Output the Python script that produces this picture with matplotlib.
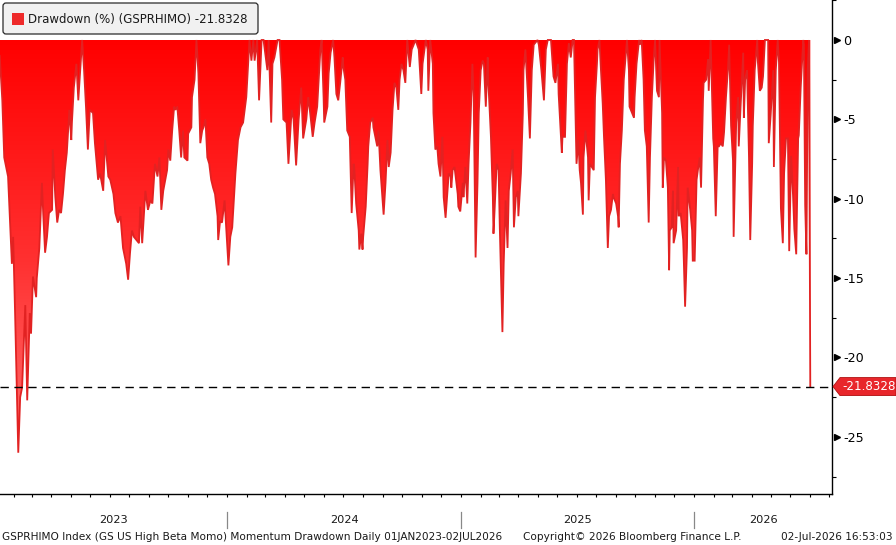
import numpy as np
import pandas as pd
import matplotlib
matplotlib.use("Agg")
import matplotlib.pyplot as plt
import matplotlib.dates as mdates
import matplotlib.transforms as mtransforms
from matplotlib.colors import LinearSegmentedColormap
from matplotlib.patches import FancyBboxPatch, Polygon, Rectangle

plt.rcParams['font.family'] = ['DejaVu Sans']
plt.rcParams['axes.unicode_minus'] = False

# --- data ---
start = pd.Timestamp("2023-01-01")
day_offset = [
    9, 13, 16, 22, 28, 30, 33, 38, 41, 44, 49, 52, 56, 58, 61, 66, 67, 71, 75, 77,
    80, 83, 86, 91, 92, 96, 99, 102, 105, 108, 111, 114, 118, 121, 122, 125, 129, 132, 135, 138,
    141, 144, 147, 150, 155, 158, 163, 166, 171, 174, 179, 182, 187, 190, 194, 198, 202, 207, 210, 213,
    216, 219, 223, 227, 229, 232, 237, 241, 245, 248, 252, 256, 259, 262, 265, 271, 273, 276, 279, 282,
    284, 287, 290, 293, 296, 298, 303, 304, 309, 310, 314, 317, 320, 323, 326, 328, 331, 334, 337, 340,
    343, 346, 350, 351, 354, 357, 361, 365, 367, 370, 373, 378, 382, 386, 390, 395, 398, 400, 403, 406,
    408, 412, 415, 419, 422, 428, 430, 434, 436, 439, 444, 447, 451, 453, 458, 461, 466, 469, 473, 477,
    481, 484, 489, 492, 495, 499, 502, 506, 511, 513, 516, 517, 522, 524, 527, 531, 533, 536, 539, 542,
    546, 547, 550, 553, 557, 560, 563, 564, 567, 571, 572, 575, 577, 578, 582, 585, 586, 589, 593, 594,
    597, 600, 602, 605, 608, 610, 613, 616, 618, 621, 624, 627, 630, 633, 635, 638, 641, 644, 647, 651,
    654, 657, 660, 665, 669, 671, 676, 679, 680, 683, 687, 688, 691, 694, 696, 699, 702, 704, 707, 710,
    712, 715, 716, 718, 721, 726, 727, 730, 734, 735, 738, 741, 743, 746, 749, 751, 754, 757, 759, 762,
    765, 767, 770, 773, 774, 778, 781, 782, 784, 787, 790, 792, 796, 798, 801, 804, 806, 809, 812, 814,
    817, 820, 821, 825, 828, 829, 832, 836, 839, 842, 845, 851, 853, 857, 861, 864, 867, 872, 876, 879,
    883, 884, 889, 890, 894, 897, 900, 903, 906, 908, 911, 912, 915, 917, 919, 922, 923, 926, 930, 931,
    933, 936, 939, 941, 944, 945, 948, 950, 953, 955, 958, 961, 963, 966, 969, 970, 974, 977, 978, 980,
    983, 986, 988, 991, 994, 995, 999, 1002, 1003, 1006, 1010, 1011, 1014, 1017, 1019, 1022, 1025, 1027, 1030, 1033,
    1035, 1038, 1041, 1042, 1046, 1047, 1049, 1052, 1055, 1057, 1058, 1061, 1063, 1064, 1068, 1071, 1072, 1075, 1079, 1080,
    1082, 1085, 1086, 1090, 1093, 1094, 1097, 1100, 1102, 1105, 1107, 1110, 1111, 1115, 1118, 1119, 1122, 1126, 1127, 1130,
    1133, 1135, 1138, 1141, 1143, 1146, 1149, 1151, 1154, 1157, 1158, 1162, 1165, 1166, 1169, 1173, 1174, 1176, 1179, 1182,
    1184, 1187, 1188, 1191, 1195, 1196, 1199, 1202, 1204, 1207, 1212, 1213, 1216, 1220, 1221, 1224, 1227, 1229, 1232, 1235,
    1237, 1240, 1243, 1245, 1248, 1251, 1253, 1256, 1259, 1260, 1263, 1267, 1268, 1270, 1272, 1274, 1276, 1278,
]
drawdown = [
    -1.0, -3.8, -7.4, -8.6, -14.1, -12.4, -17.2, -26.0, -22.5, -21.9, -16.7, -22.7, -17.2, -18.5, -14.9, -16.2, -15.0, -13.1, -9.0, -10.9,
    -13.4, -12.4, -10.9, -10.7, -6.9, -9.9, -11.5, -10.7, -10.9, -9.7, -8.2, -7.1, -4.4, -6.3, -5.2, -3.0, -1.5, -3.8, -1.9, 0.0,
    -1.9, -4.2, -6.9, -4.4, -4.6, -6.5, -8.8, -8.4, -9.5, -6.3, -8.6, -8.8, -9.7, -10.9, -11.5, -11.1, -13.1, -14.1, -15.1, -13.4,
    -12.0, -12.4, -12.6, -12.8, -10.5, -12.8, -9.5, -10.7, -10.1, -10.3, -7.8, -8.6, -7.4, -10.7, -9.5, -8.2, -6.9, -7.6, -5.7, -4.2,
    -4.4, -4.2, -5.7, -7.4, -5.7, -7.4, -7.6, -5.9, -5.5, -3.6, -2.5, 0.0, -2.1, -6.5, -5.7, -5.5, -5.0, -7.4, -7.8, -8.8,
    -9.3, -9.7, -11.1, -12.6, -11.4, -11.5, -10.1, -12.8, -14.2, -12.4, -11.8, -8.4, -6.3, -5.5, -5.2, -3.6, -1.5, 0.0, -1.3, 0.0,
    -1.3, 0.0, -3.8, 0.0, 0.0, -1.9, 0.0, -5.2, -1.5, -1.1, 0.0, 0.0, -2.5, -5.0, -5.2, -7.8, -4.4, -5.0, -7.9, -5.0,
    -3.0, -6.2, -5.0, -3.6, -4.6, -6.1, -5.2, -4.2, -0.6, 0.0, -3.6, -5.2, -4.2, -2.1, -0.8, 0.0, -1.1, -3.4, -3.8, -2.7,
    -1.1, -1.7, -2.5, -5.7, -6.1, -10.9, -7.8, -8.0, -10.3, -12.0, -13.2, -12.2, -13.2, -12.4, -10.5, -7.8, -6.7, -5.2, -4.9, -5.5,
    -6.1, -6.7, -5.7, -8.2, -9.9, -11.0, -9.0, -6.3, -8.0, -7.1, -4.4, -2.7, -3.0, -4.4, -2.5, -1.5, -1.9, -2.7, 0.0, -1.7,
    -0.6, -0.3, 0.0, -0.6, -3.4, -1.5, 0.0, -0.6, -3.2, 0.0, -1.5, -4.6, -6.9, -6.7, -7.8, -8.6, -6.1, -9.9, -11.2, -9.5,
    -8.4, -8.6, -9.3, -8.2, -8.0, -9.7, -10.5, -10.8, -9.0, -9.9, -8.0, -10.3, -7.8, -5.2, -1.5, -3.6, -13.7, -9.0, -4.6, -1.9,
    -1.3, -1.5, -4.2, -1.1, -2.7, -6.1, -9.9, -12.2, -10.5, -7.8, -8.2, -12.0, -18.4, -14.1, -10.1, -13.1, -9.5, -8.4, -6.9, -11.8,
    -9.9, -9.5, -11.1, -8.4, -4.6, -1.9, -0.6, -3.6, -6.2, -1.9, -0.3, 0.0, -0.3, -1.9, -3.8, -0.6, 0.0, 0.0, -2.3, -2.7,
    -1.5, -3.4, -7.1, -6.1, -6.1, -1.5, -0.2, -1.1, 0.0, 0.0, -5.7, -7.8, -6.3, -8.2, -9.0, -11.0, -7.4, -5.7, -7.4, -10.1,
    -7.8, -8.0, -8.2, -3.6, -1.5, -0.6, 0.0, -1.7, -4.0, -6.1, -8.8, -13.1, -11.1, -10.7, -9.7, -9.9, -10.3, -11.1, -11.8, -7.8,
    -5.7, -2.5, -1.5, 0.0, -1.9, -4.2, -4.6, -4.9, -3.6, -1.5, 0.0, -0.3, 0.0, -2.5, -5.7, -6.7, -11.5, -7.4, -3.6, -1.1,
    0.0, -3.2, -3.6, 0.0, -4.6, -9.3, -7.4, -7.6, -9.3, -14.5, -12.0, -11.8, -9.5, -12.8, -12.0, -8.0, -11.1, -10.9, -12.6, -13.9,
    -16.8, -13.1, -9.3, -10.7, -12.0, -13.9, -13.9, -8.8, -8.2, -7.4, -9.3, -3.8, -2.7, -2.5, -1.2, -3.2, 0.0, -6.2, -6.7, -11.1,
    -6.7, -6.7, -6.5, -6.7, -5.8, -3.6, -1.9, -0.3, -5.4, -7.6, -12.4, -5.2, -3.6, -6.7, -4.1, -0.8, -4.9, -2.5, -1.9, -7.3,
    -12.6, -7.8, -5.4, -1.9, 0.0, -1.4, -3.2, -3.0, -2.3, 0.0, 0.0, -6.5, -4.7, -1.9, -8.0, -1.9, 0.0, -1.4, -10.6, -12.8,
    -8.4, -6.2, -6.2, -13.3, -7.3, -9.8, -11.9, -13.5, -6.2, -6.0, -3.0, 0.0, -0.3, -10.4, -13.5, -1.9, 0.0, -21.8328,
]
last_value = -21.8328
years = [2023, 2024, 2025, 2026]
yticks = [0, -5, -10, -15, -20, -25]
legend_label = "Drawdown (%) (GSPRHIMO) -21.8328"
footer_left = "GSPRHIMO Index (GS US High Beta Momo) Momentum Drawdown Daily 01JAN2023-02JUL2026"
footer_mid = "Copyright\u00a9 2026 Bloomberg Finance L.P."
footer_right = "02-Jul-2026 16:53:03"

dates = start + pd.to_timedelta(day_offset, unit="D")
x = mdates.date2num(dates)
y = np.array(drawdown)
x_left = mdates.date2num(start + pd.Timedelta(days=9.4))
x_right = mdates.date2num(pd.Timestamp("2026-08-05"))
y_low, y_high = -28.6, 2.52

W, H = 896, 545
fig = plt.figure(figsize=(W / 100, H / 100), dpi=100)
ax = fig.add_axes([0, 51 / H, 832 / W, 494 / H])

# gradient filled area
poly = ax.fill_between(x, y, 0, color='none', lw=0)
cmap = LinearSegmentedColormap.from_list('dd', ['#ff0000', '#ff3030', '#ff7676'])
grad = np.linspace(0, 1, 256).reshape(-1, 1)
im = ax.imshow(grad, extent=[x_left, x_right, -27.5, 0], aspect='auto',
               cmap=cmap, origin='upper', zorder=2, interpolation='bilinear')
im.set_clip_path(poly.get_paths()[0], transform=ax.transData)
ax.plot(x, y, color='#e22222', lw=1.3, zorder=3, solid_joinstyle='miter')

ax.axhline(last_value, color='black', lw=1.0, dashes=(6, 4), zorder=4)

ax.set_xlim(x_left, x_right)
ax.set_ylim(y_low, y_high)

# spines
for s in ['left', 'top']:
    ax.spines[s].set_visible(False)
ax.spines['right'].set_linewidth(1.0)
ax.spines['bottom'].set_linewidth(1.0)

# y axis on the right
ax.yaxis.tick_right()
ax.set_yticks(yticks)
ax.set_yticklabels([str(v) for v in yticks])
ax.set_yticks(np.arange(-27.5, 3, 5), minor=True)
ax.tick_params(axis='y', which='major', length=0, pad=8, labelsize=9.2)
ax.tick_params(axis='y', which='minor', length=3, width=0.8, direction='out')
tri_trans = mtransforms.offset_copy(
    mtransforms.blended_transform_factory(ax.transAxes, ax.transData),
    fig=fig, x=4.5, y=0, units='dots')
ax.plot([1] * len(yticks), yticks, ls='none', marker='>', ms=4.5, color='black',
        transform=tri_trans, clip_on=False)

# x axis: monthly ticks, year labels below
ax.xaxis.set_major_locator(mdates.MonthLocator())
ax.xaxis.set_major_formatter(plt.NullFormatter())
ax.tick_params(axis='x', which='major', length=2.5, width=0.8, direction='out')

sep_trans = mtransforms.blended_transform_factory(ax.transData, ax.transAxes)
for yr in years:
    x0 = max(mdates.date2num(pd.Timestamp(f"{yr}-01-01")), x_left)
    x1 = min(mdates.date2num(pd.Timestamp(f"{yr + 1}-01-01")), x_right)
    ax.text((x0 + x1) / 2, -0.053, str(yr), transform=sep_trans, ha='center',
            va='center', fontsize=8.2, color='#1a1a1a')
    if yr > years[0]:
        ax.plot([x0, x0], [-0.036, -0.068], color='#888888', lw=0.9,
                transform=sep_trans, clip_on=False)

# last value tag on the right axis
tag_trans = fig.dpi_scale_trans + mtransforms.ScaledTranslation(
    1.0, last_value, mtransforms.blended_transform_factory(ax.transAxes, ax.transData))
tag = Polygon([(0.01, 0), (0.08, 0.09), (0.64, 0.09), (0.64, -0.09), (0.08, -0.09)],
              closed=True, facecolor='#e8262b', edgecolor='#b01010', lw=0.6,
              transform=tag_trans, clip_on=False, zorder=5)
ax.add_patch(tag)
ax.text(0.10, 0, f"{last_value:.4f}", transform=tag_trans, color='white',
        fontsize=8.6, va='center', ha='left', zorder=6, clip_on=False)

# legend box (pixel coordinates)
pix = mtransforms.IdentityTransform()
box = FancyBboxPatch((3, H - 34), 255, 31, boxstyle='round,pad=0,rounding_size=3',
                     facecolor='#f1f1f1', edgecolor='#2a2a2a', lw=0.9,
                     transform=pix, zorder=10)
fig.patches.append(box)
fig.patches.append(Rectangle((12, H - 25), 12, 12, facecolor='#ee2a2a',
                             edgecolor='none', transform=pix, zorder=11))
fig.text(28 / W, (H - 19) / H, legend_label, fontsize=8.5, va='center',
         ha='left', color='#1a1a1a', zorder=12)

# footer
fig.text(2 / W, (H - 537) / H, footer_left, fontsize=7.6, va='center', ha='left', color='#1a1a1a')
fig.text(632 / W, (H - 537) / H, footer_mid, fontsize=7.6, va='center', ha='center', color='#1a1a1a')
fig.text(893 / W, (H - 537) / H, footer_right, fontsize=7.6, va='center', ha='right', color='#1a1a1a')

fig.savefig("out.png", dpi=100)
